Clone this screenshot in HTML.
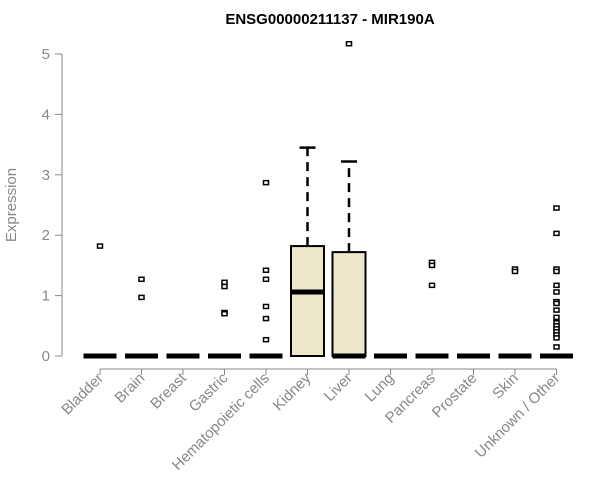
<!DOCTYPE html>
<html><head><meta charset="utf-8"><style>body{margin:0;background:#fff}svg{display:block;font-family:"Liberation Sans",sans-serif}</style></head>
<body>
<svg id="c" width="600" height="500">
<text x="330" y="24" text-anchor="middle" font-weight="bold" font-size="15">ENSG00000211137 - MIR190A</text>
<text transform="translate(16,205) rotate(-90)" text-anchor="middle" font-size="15" fill="#888">Expression</text>
<g id="g"></g>
</svg>
<script>
const categories=["Bladder","Brain","Breast","Gastric","Hematopoietic cells","Kidney","Liver","Lung","Pancreas","Prostate","Skin","Unknown / Other"];
const q1=[0,0,0,0,0,0,0,0,0,0,0,0];
const medians=[0,0,0,0,0,1.06,0,0,0,0,0,0];
const q3=[0,0,0,0,0,1.82,1.72,0,0,0,0,0];
const whiskerHigh=[0,0,0,0,0,3.45,3.22,0,0,0,0,0];
const outliers=[[1.82],[1.27,0.97],[],[1.22,1.15,0.72,0.7],[2.87,1.42,1.27,0.82,0.62,0.27],[],[5.17],[],[1.55,1.5,1.17],[],[1.44,1.4],[2.45,2.03,1.44,1.4,1.17,1.06,0.9,0.87,0.76,0.64,0.55,0.5,0.45,0.4,0.35,0.3,0.15]];
const yTicks=[0,1,2,3,4,5];
const NS="http://www.w3.org/2000/svg",g=document.getElementById('g');
const X=i=>100+41.5*i, Y=v=>356-60.4*v;
function mk(t,a){const e=document.createElementNS(NS,t);for(const k in a)e.setAttribute(k,a[k]);g.appendChild(e);return e;}
let e=mk('line',{x1:62,x2:62,y1:Y(0),y2:Y(5),stroke:'#888'});

yTicks.forEach(v=>{let t=mk('line',{x1:55,x2:62,y1:Y(v),y2:Y(v),stroke:'#888'});

let l=mk('text',{x:50,y:Y(v)+5,'text-anchor':'end','font-size':15,fill:'#888'});l.textContent=v;
});
e=mk('line',{x1:X(0),x2:X(11),y1:369,y2:369,stroke:'#888'});

categories.forEach((c,i)=>{const x=X(i);
let t=mk('line',{x1:x,x2:x,y1:369,y2:375,stroke:'#888'});

let l=mk('text',{transform:`translate(${x+4},${379}) rotate(-45)`,'text-anchor':'end','font-size':15,fill:'#888'});l.textContent=c;

if(whiskerHigh[i]>q3[i]){let w=mk('line',{x1:x,x2:x,y1:Y(q3[i]),y2:Y(whiskerHigh[i]),stroke:'#000','stroke-width':2.5,'stroke-dasharray':'9,6'});

let cap=mk('line',{x1:x-8,x2:x+8,y1:Y(whiskerHigh[i]),y2:Y(whiskerHigh[i]),stroke:'#000','stroke-width':2.5});
}
if(q3[i]>q1[i]){let b=mk('rect',{x:x-16.5,y:Y(q3[i]),width:33,height:Y(q1[i])-Y(q3[i]),fill:'#ede8cc',stroke:'#000','stroke-width':2});
}
let m=mk('line',{x1:x-16.5,x2:x+16.5,y1:Y(medians[i]),y2:Y(medians[i]),stroke:'#000','stroke-width':5});

outliers[i].forEach(v=>{let o=mk('rect',{x:x-2.5,y:Y(v)-2,width:5,height:4,fill:'#fff',stroke:'#000','stroke-width':1.5});
});
});
</script>
</body></html>
